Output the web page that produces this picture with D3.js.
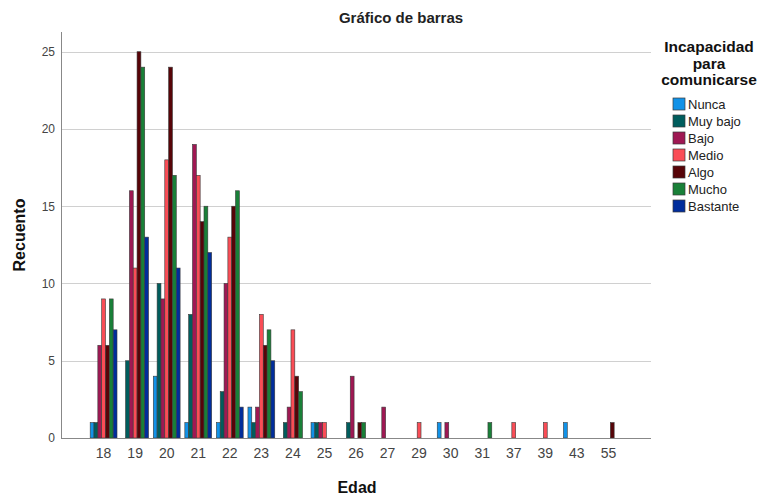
<!DOCTYPE html>
<html>
<head>
<meta charset="utf-8">
<script src="https://cdn.jsdelivr.net/npm/d3@7"></script>
<style>
  html, body { margin: 0; padding: 0; background: #ffffff; }
  svg { display: block; font-family: "Liberation Sans", Arial, sans-serif; }
</style>
</head>
<body>
<svg id="chart" width="761" height="495"></svg>
<script>
// ---- data ----
const ages = ["18","19","20","21","22","23","24","25","26","27","29","30","31","37","39","43","55"];
const seriesNames = ["Nunca","Muy bajo","Bajo","Medio","Algo","Mucho","Bastante"];
const seriesColors = ["#1192e8","#005d5d","#9f1853","#fa4d56","#570408","#198038","#002d9c"];
const nunca    = [1,0,4,1,1,2,0,1,0,0,0,1,0,0,0,1,0];
const muyBajo  = [1,5,10,8,3,1,1,1,1,0,0,0,0,0,0,0,0];
const bajo     = [6,16,9,19,10,2,2,1,4,2,0,1,0,0,0,0,0];
const medio    = [9,11,18,17,13,8,7,1,0,0,1,0,0,1,1,0,0];
const algo     = [6,25,24,14,15,6,4,0,1,0,0,0,0,0,0,0,1];
const mucho    = [9,24,17,15,16,7,3,0,1,0,0,0,1,0,0,0,0];
const bastante = [7,13,11,12,2,5,0,0,0,0,0,0,0,0,0,0,0];
const yTicks = [0,5,10,15,20,25];

const seriesValues = [nunca, muyBajo, bajo, medio, algo, mucho, bastante];

// ---- layout ----
const svg = d3.select("#chart");
const plot = { left: 61, right: 651, top: 32, bottom: 438 };

const x0 = d3.scaleBand().domain(ages).range([plot.left, plot.right])
  .paddingInner(0.15).paddingOuter(0.925);
const x1 = d3.scaleBand().domain(seriesNames).range([0, x0.bandwidth()]).padding(0);
const y = d3.scaleLinear().domain([0, 25]).range([plot.bottom, 51.7]);
const color = d3.scaleOrdinal().domain(seriesNames).range(seriesColors);

// gridlines
svg.append("g").selectAll("line").data(yTicks.filter(d => d > 0)).join("line")
  .attr("x1", plot.left).attr("x2", plot.right)
  .attr("y1", d => Math.round(y(d)) + 0.5).attr("y2", d => Math.round(y(d)) + 0.5)
  .attr("stroke", "#d0d0d0").attr("stroke-width", 1);

// bars
const rows = [];
ages.forEach((a, i) => seriesNames.forEach((s, j) => {
  rows.push({ age: a, series: s, value: seriesValues[j][i] });
}));
svg.append("g").selectAll("rect").data(rows.filter(d => d.value > 0)).join("rect")
  .attr("x", d => x0(d.age) + x1(d.series))
  .attr("y", d => y(d.value))
  .attr("width", x1.bandwidth())
  .attr("height", d => y(0) - y(d.value))
  .attr("fill", d => color(d.series))
  .attr("stroke", "#3a3a3a").attr("stroke-width", 0.6);

// axes
const yAxis = d3.axisLeft(y).tickValues(yTicks).tickSize(0).tickPadding(6);
const gy = svg.append("g").attr("transform", `translate(${plot.left},0)`).call(yAxis);
gy.select(".domain").remove();
gy.selectAll("text").attr("font-size", 12).attr("fill", "#444")
  .attr("font-family", "Liberation Sans, Arial, sans-serif");

const xAxis = d3.axisBottom(x0).tickSize(0).tickPadding(10);
const gx = svg.append("g").attr("transform", `translate(0,${plot.bottom})`).call(xAxis);
gx.select(".domain").remove();
gx.selectAll("text").attr("font-size", 14).attr("fill", "#444")
  .attr("font-family", "Liberation Sans, Arial, sans-serif");

svg.append("line").attr("x1", plot.left + 0.5).attr("x2", plot.left + 0.5)
  .attr("y1", plot.top).attr("y2", plot.bottom).attr("stroke", "#888");
svg.append("line").attr("x1", plot.left).attr("x2", plot.right)
  .attr("y1", plot.bottom + 0.5).attr("y2", plot.bottom + 0.5).attr("stroke", "#888");

// titles
svg.append("text").attr("x", 401).attr("y", 23).attr("text-anchor", "middle")
  .attr("font-size", 15).attr("font-weight", "bold").attr("fill", "#222")
  .text("Gráfico de barras");
svg.append("text").attr("transform", "translate(25,235) rotate(-90)")
  .attr("text-anchor", "middle").attr("font-size", 16).attr("font-weight", "bold")
  .attr("fill", "#111").text("Recuento");
svg.append("text").attr("x", 357).attr("y", 493).attr("text-anchor", "middle")
  .attr("font-size", 16).attr("font-weight", "bold").attr("fill", "#111").text("Edad");

// legend
const legTitle = ["Incapacidad", "para", "comunicarse"];
svg.append("g").selectAll("text").data(legTitle).join("text")
  .attr("x", 709).attr("y", (d, i) => 52 + i * 16.5)
  .attr("text-anchor", "middle").attr("font-size", 15.5).attr("font-weight", "bold")
  .attr("fill", "#111").text(d => d);

const leg = svg.append("g").selectAll("g").data(seriesNames).join("g")
  .attr("transform", (d, i) => `translate(673,${98 + i * 17})`);
leg.append("rect").attr("width", 12).attr("height", 12)
  .attr("fill", d => color(d)).attr("stroke", "#3a3a3a").attr("stroke-width", 0.7);
leg.append("text").attr("x", 15).attr("y", 11).attr("font-size", 13)
  .attr("fill", "#222").text(d => d);
</script>
</body>
</html>
